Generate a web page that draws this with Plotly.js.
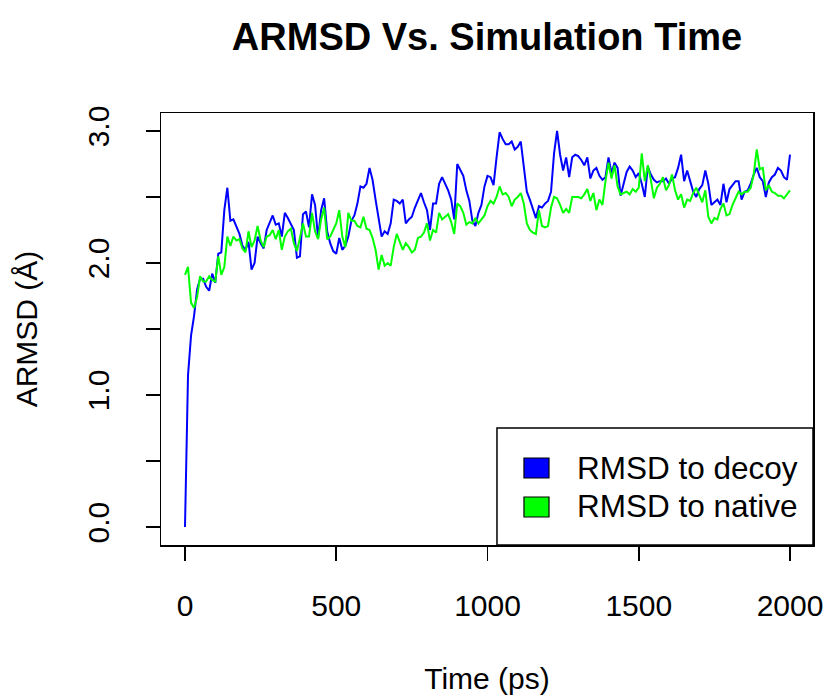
<!DOCTYPE html>
<html>
<head>
<meta charset="utf-8">
<script src="https://cdn.plot.ly/plotly-3.0.1.min.js"></script>
<style>
  html, body { margin: 0; padding: 0; background: #ffffff; }
  #plot { width: 828px; height: 695px; }
</style>
</head>
<body>
<div id="plot"></div>
<script>
// Frames were saved every 10 ps over a 2 ns run
const timeStep = 10;

// ARMSD (Å) of each frame against the decoy structure
const rmsdDecoy = [
  0.00, 1.15, 1.45, 1.60, 1.80, 1.88, 1.88, 1.82, 1.79, 1.92, 1.85, 2.07, 2.08, 2.40, 2.57, 2.32, 2.33,
  2.28, 2.22, 2.13, 2.10, 2.16, 1.95, 2.00, 2.20, 2.15, 2.11, 2.25, 2.31, 2.36, 2.29, 2.30, 2.20,
  2.38, 2.34, 2.30, 2.25, 2.04, 2.05, 2.37, 2.39, 2.27, 2.52, 2.44, 2.19, 2.40, 2.49, 2.24, 2.15, 2.09,
  2.07, 2.19, 2.10, 2.13, 2.20, 2.32, 2.36, 2.45, 2.58, 2.57, 2.60, 2.72, 2.63, 2.48, 2.32, 2.20, 2.24, 2.22,
  2.30, 2.48, 2.47, 2.45, 2.48, 2.30, 2.33, 2.35, 2.42, 2.48, 2.53, 2.46, 2.40, 2.25, 2.45, 2.45, 2.60,
  2.65, 2.60, 2.55, 2.48, 2.33, 2.75, 2.70, 2.66, 2.55, 2.47, 2.32, 2.28, 2.38, 2.44, 2.58, 2.66, 2.65, 2.59,
  2.80, 2.99, 2.94, 2.90, 2.90, 2.92, 2.86, 2.88, 2.92, 2.75, 2.54, 2.48, 2.40, 2.34, 2.43, 2.42, 2.45,
  2.47, 2.54, 2.83, 3.00, 2.82, 2.70, 2.80, 2.65, 2.80, 2.82, 2.81, 2.78, 2.74, 2.80, 2.64, 2.70, 2.72, 2.66,
  2.63, 2.65, 2.80, 2.68, 2.76, 2.72, 2.51, 2.60, 2.69, 2.73, 2.70, 2.65, 2.68, 2.60, 2.50, 2.73, 2.67,
  2.63, 2.61, 2.62, 2.62, 2.64, 2.60, 2.64, 2.65, 2.72, 2.82, 2.62, 2.70, 2.62, 2.54, 2.50, 2.56, 2.59, 2.70,
  2.60, 2.44, 2.46, 2.48, 2.44, 2.60, 2.46, 2.56, 2.59, 2.62, 2.62, 2.48, 2.54, 2.55, 2.60, 2.67, 2.72,
  2.65, 2.62, 2.50, 2.61, 2.65, 2.67, 2.72, 2.70, 2.65, 2.63, 2.82
];

// ARMSD (Å) of each frame against the native structure
const rmsdNative = [
  1.91, 1.97, 1.70, 1.66, 1.74, 1.90, 1.86, 1.86, 1.90, 1.87, 1.86, 2.05, 1.91, 1.97, 2.20, 2.13, 2.20,
  2.17, 2.18, 2.11, 2.08, 2.24, 2.12, 2.17, 2.28, 2.17, 2.12, 2.20, 2.21, 2.25, 2.18, 2.25, 2.10,
  2.20, 2.24, 2.26, 2.15, 2.09, 2.19, 2.30, 2.20, 2.20, 2.38, 2.24, 2.18, 2.33, 2.42, 2.18, 2.20, 2.25,
  2.30, 2.40, 2.20, 2.12, 2.38, 2.32, 2.32, 2.28, 2.27, 2.35, 2.26, 2.25, 2.19, 2.10, 1.95, 2.06, 1.98, 2.00,
  1.98, 2.12, 2.22, 2.16, 2.10, 2.15, 2.12, 2.08, 2.10, 2.19, 2.20, 2.23, 2.30, 2.17, 2.25, 2.23, 2.38,
  2.33, 2.35, 2.37, 2.31, 2.22, 2.45, 2.43, 2.38, 2.29, 2.31, 2.30, 2.34, 2.30, 2.33, 2.36, 2.43, 2.47, 2.45,
  2.50, 2.58, 2.52, 2.53, 2.50, 2.43, 2.48, 2.50, 2.53, 2.45, 2.30, 2.25, 2.23, 2.22, 2.40, 2.28, 2.27,
  2.28, 2.42, 2.50, 2.49, 2.44, 2.38, 2.41, 2.38, 2.50, 2.50, 2.50, 2.49, 2.52, 2.56, 2.47, 2.53, 2.40, 2.48,
  2.44, 2.62, 2.76, 2.64, 2.74, 2.58, 2.52, 2.53, 2.54, 2.52, 2.56, 2.54, 2.57, 2.83, 2.62, 2.74, 2.63,
  2.49, 2.57, 2.60, 2.65, 2.55, 2.59, 2.67, 2.55, 2.48, 2.52, 2.42, 2.48, 2.47, 2.53, 2.57, 2.52, 2.46, 2.55,
  2.35, 2.30, 2.34, 2.33, 2.41, 2.45, 2.36, 2.37, 2.44, 2.49, 2.54, 2.52, 2.54, 2.54, 2.57, 2.67, 2.86,
  2.71, 2.72, 2.55, 2.59, 2.54, 2.53, 2.51, 2.51, 2.49, 2.52, 2.55
];

const seriesNames = ['RMSD to decoy', 'RMSD to native'];
const seriesColors = ['#0000ff', '#00ff00'];

const xTickVals = [0, 500, 1000, 1500, 2000];
const xTickText = ['0', '500', '1000', '1500', '2000'];
const yTickVals = [0, 0.5, 1, 1.5, 2, 2.5, 3];
const yTickText = ['0.0', '', '1.0', '', '2.0', '', '3.0'];

const timePs = rmsdDecoy.map((_, i) => i * timeStep);

const FONT = 'Liberation Sans, Arial, Helvetica, sans-serif';

const traces = [
  {
    x: timePs, y: rmsdDecoy, type: 'scatter', mode: 'lines', name: seriesNames[0],
    line: { color: seriesColors[0], width: 2 }, showlegend: false
  },
  {
    x: timePs, y: rmsdNative, type: 'scatter', mode: 'lines', name: seriesNames[1],
    line: { color: seriesColors[1], width: 2 }, showlegend: false
  }
];

// Legend drawn in the lower-right corner of the frame, base-graphics style
const legendShapes = [
  { type: 'rect', xref: 'paper', yref: 'paper', x0: 0.5153, x1: 1.0, y0: 0.0, y1: 0.2708,
    line: { color: '#000000', width: 1.5 }, fillcolor: '#ffffff', layer: 'above' },
  { type: 'rect', xref: 'paper', yref: 'paper', x0: 0.5567, x1: 0.5951, y0: 0.1551, y1: 0.2014,
    line: { color: '#000000', width: 1.2 }, fillcolor: seriesColors[0], layer: 'above' },
  { type: 'rect', xref: 'paper', yref: 'paper', x0: 0.5567, x1: 0.5951, y0: 0.0648, y1: 0.1111,
    line: { color: '#000000', width: 1.2 }, fillcolor: seriesColors[1], layer: 'above' }
];
const legendLabels = [
  { xref: 'paper', yref: 'paper', x: 0.6350, y: 0.1782, xanchor: 'left', yanchor: 'middle',
    text: seriesNames[0], showarrow: false, font: { family: FONT, size: 31.5, color: '#000000' } },
  { xref: 'paper', yref: 'paper', x: 0.6350, y: 0.0903, xanchor: 'left', yanchor: 'middle',
    text: seriesNames[1], showarrow: false, font: { family: FONT, size: 31.5, color: '#000000' } }
];

const axisCommon = {
  showgrid: false, zeroline: false,
  showline: true, mirror: true, linecolor: '#000000', linewidth: 1.5,
  ticks: 'outside', ticklen: 14, tickwidth: 1.5, tickcolor: '#000000',
  tickmode: 'array', tickfont: { family: FONT, size: 30, color: '#000000' }
};

const layout = {
  width: 828, height: 695,
  paper_bgcolor: '#ffffff', plot_bgcolor: '#ffffff',
  font: { family: FONT, color: '#000000' },
  margin: { l: 161, r: 15, t: 113, b: 150 },
  showlegend: false,
  title: {
    text: '<b>ARMSD Vs. Simulation Time</b>',
    font: { family: FONT, size: 38, color: '#000000' },
    x: 0.5, xref: 'paper', xanchor: 'center',
    y: 0.947, yref: 'container', yanchor: 'middle'
  },
  xaxis: Object.assign({}, axisCommon, {
    range: [-79.3, 2076],
    tickvals: xTickVals, ticktext: xTickText,
    ticklabelstandoff: 19,
    title: { text: 'Time (ps)', font: { family: FONT, size: 30, color: '#000000' }, standoff: 54 }
  }),
  yaxis: Object.assign({}, axisCommon, {
    range: [-0.136, 3.136],
    tickvals: yTickVals, ticktext: yTickText,
    tickangle: -90,
    ticklabelstandoff: 25,
    title: { text: 'ARMSD (Å)', font: { family: FONT, size: 30, color: '#000000' }, standoff: 35 }
  }),
  shapes: legendShapes,
  annotations: legendLabels
};

Plotly.newPlot('plot', traces, layout, { staticPlot: true, displayModeBar: false });
</script>
</body>
</html>
